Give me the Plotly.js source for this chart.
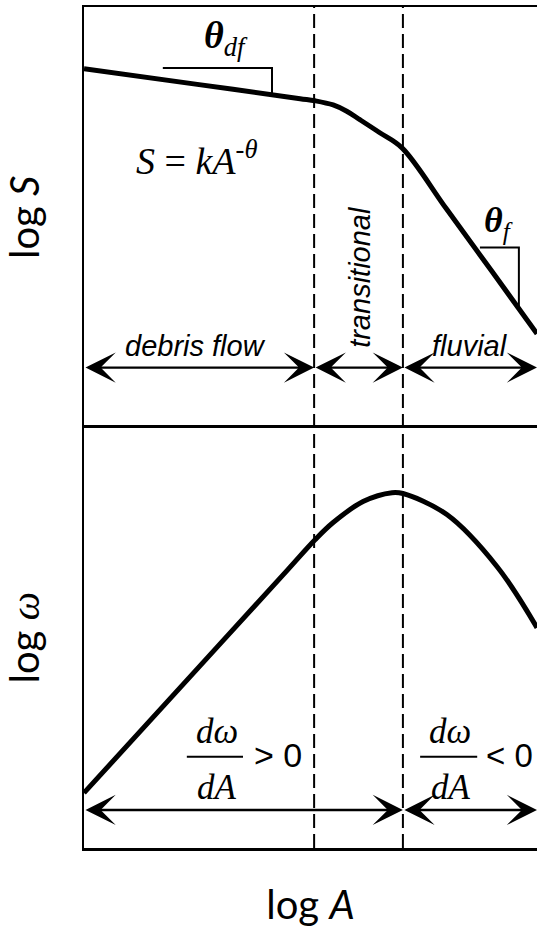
<!DOCTYPE html>
<html><head><meta charset="utf-8">
<script src="https://cdn.plot.ly/plotly-3.0.1.min.js"></script>
<style>html,body{margin:0;padding:0;background:#fff}</style>
</head><body><div id="chart" style="width:537px;height:933px"></div>
<script>
// ---- data (arbitrary log units, 0..100) ----
const axisRange = [0, 100];
const regimeBounds = [50.8, 70.4];           // debris flow | transitional | fluvial
// slope–area curve
const logA_S = [0, 25, 47.7, 51, 55, 58, 60.9, 65.3, 70.2, 80, 90, 100];
const logS   = [85.3, 81.6, 78.2, 77.7, 76.7, 75.2, 73.2, 70.1, 66.5, 52.0, 37.2, 22.3];
// stream power curve
const logA_W = [0, 25, 45, 51, 55, 61.6, 68, 70.4, 80.1, 91.2, 100];
const logW   = [13.1, 42.6, 66.2, 73.3, 77.4, 82.4, 84.5, 84.3, 79.3, 66.9, 52.4];
// slope brackets
const bracketDfX = [17.4, 41.5, 41.5];
const bracketDfY = [85.5, 85.5, 79.1];
const bracketFX  = [87.4, 96.0, 96.0];
const bracketFY  = [42.8, 42.8, 28.5];
// arrow levels
const arrowLevelS = 14.25;
const arrowLevelW = 9.05;
// labels
const regimeLabels = ['debris flow', 'transitional', 'fluvial'];

const sans = 'Liberation Sans, Arial, sans-serif';
const serif = 'Liberation Serif, Times New Roman, serif';
const titleF = 'Lato, sans-serif';

const traces = [
  {x: logA_S, y: logS, xaxis: 'x2', yaxis: 'y', mode: 'lines',
   line: {color: '#000', width: 5, shape: 'spline', smoothing: 1}, hoverinfo: 'skip'},
  {x: logA_W, y: logW, xaxis: 'x', yaxis: 'y2', mode: 'lines',
   line: {color: '#000', width: 5, shape: 'spline', smoothing: 1}, hoverinfo: 'skip'},
  {x: bracketDfX, y: bracketDfY, xaxis: 'x2', yaxis: 'y', mode: 'lines',
   line: {color: '#000', width: 2}, hoverinfo: 'skip'},
  {x: bracketFX, y: bracketFY, xaxis: 'x2', yaxis: 'y', mode: 'lines',
   line: {color: '#000', width: 2}, hoverinfo: 'skip'}
];

function arrow(x0, x1, y, xr, yr) {
  return {x: x1, y: y, ax: x0, ay: y, xref: xr, yref: yr, axref: xr, ayref: yr,
    text: '', showarrow: true, arrowside: 'end+start', arrowhead: 3, startarrowhead: 3,
    arrowsize: 2.1, startarrowsize: 2.1, arrowwidth: 2.4, arrowcolor: '#000',
    standoff: 0, startstandoff: 0};
}
const segS = [[axisRange[0], regimeBounds[0]], [regimeBounds[0], regimeBounds[1]], [regimeBounds[1], axisRange[1]]];
const segW = [[axisRange[0], regimeBounds[1]], [regimeBounds[1], axisRange[1]]];

const annotations = [];
segS.forEach(s => annotations.push(arrow(s[0], s[1], arrowLevelS, 'x2', 'y')));
segW.forEach(s => annotations.push(arrow(s[0], s[1], arrowLevelW, 'x', 'y2')));

function txt(t, x, y, xr, yr, font, size, extra) {
  return Object.assign({text: t, x: x, y: y, xref: xr, yref: yr, showarrow: false,
    font: {family: font, size: size, color: '#000'}}, extra || {});
}
annotations.push(txt('<i>' + regimeLabels[0] + '</i>', 24.7, 19.3, 'x2', 'y', sans, 29));
annotations.push(txt('<i>' + regimeLabels[1] + '</i>', 60.9, 35.8, 'x2', 'y', sans, 29, {textangle: -90}));
annotations.push(txt('<i>' + regimeLabels[2] + '</i>', 85.2, 19.3, 'x2', 'y', sans, 29));
annotations.push(txt('<b><i>θ</i></b><sub><i>df</i></sub>', 31.4, 92.6, 'x2', 'y', serif, 38));
annotations.push(txt('<b><i>θ</i></b><sub><i>f</i></sub>', 91.4, 48.8, 'x2', 'y', serif, 36));
annotations.push(txt('<i>S</i> = <i>kA</i><sup>-<i>θ</i></sup>', 24.9, 64.0, 'x2', 'y', serif, 38));
// fractions
annotations.push(txt('<i>dω</i>', 29.25, 27.6, 'x', 'y2', serif, 35));
annotations.push(txt('<i>dA</i>', 29.25, 14.3, 'x', 'y2', serif, 35));
annotations.push(txt('&gt; 0', 42.9, 22.1, 'x', 'y2', sans, 34));
annotations.push(txt('<i>dω</i>', 80.8, 27.6, 'x', 'y2', serif, 35));
annotations.push(txt('<i>dA</i>', 81.0, 14.3, 'x', 'y2', serif, 35));
annotations.push(txt('&lt; 0', 88.4, 22.1, 'x', 'y2', sans, 33, {xanchor: 'left'}));

const fracBars = [[22.7, 35.1], [74.2, 86.8]];
const fracLevel = 21.7;

const shapes = [];
regimeBounds.forEach(b => shapes.push({type: 'line', xref: 'x', yref: 'paper', x0: b, x1: b, y0: 0, y1: 1,
  line: {color: '#000', width: 2, dash: '14px,6px'}}));
fracBars.forEach(f => shapes.push({type: 'line', xref: 'x', yref: 'y2', x0: f[0], x1: f[1], y0: fracLevel, y1: fracLevel,
  line: {color: '#000', width: 2}}));

const axBase = {range: axisRange, showgrid: false, zeroline: false, showticklabels: false, ticks: '',
  showline: true, linecolor: '#000', linewidth: 2.5, fixedrange: true};

const layout = {
  width: 537, height: 933,
  margin: {l: 84, r: 0, t: 7, b: 85},
  paper_bgcolor: '#fff', plot_bgcolor: '#fff', showlegend: false,
  xaxis: Object.assign({}, axBase, {anchor: 'y2', mirror: true,
    title: {text: 'log <i>A</i>', font: {family: titleF, size: 40, color: '#000'}, standoff: 42}}),
  xaxis2: Object.assign({}, axBase, {anchor: 'y', matches: 'x', side: 'top', mirror: false}),
  yaxis: Object.assign({}, axBase, {domain: [0.5, 1], anchor: 'x2',
    title: {text: 'log <i>S</i>', font: {family: titleF, size: 40, color: '#000'}, standoff: 30}}),
  yaxis2: Object.assign({}, axBase, {domain: [0, 0.5], anchor: 'x',
    title: {text: 'log <span style="font-family:Liberation Serif"><i>ω</i></span>', font: {family: titleF, size: 40, color: '#000'}, standoff: 30}}),
  annotations: annotations,
  shapes: shapes
};

Plotly.newPlot('chart', traces, layout, {displayModeBar: false, staticPlot: true});
</script></body></html>
